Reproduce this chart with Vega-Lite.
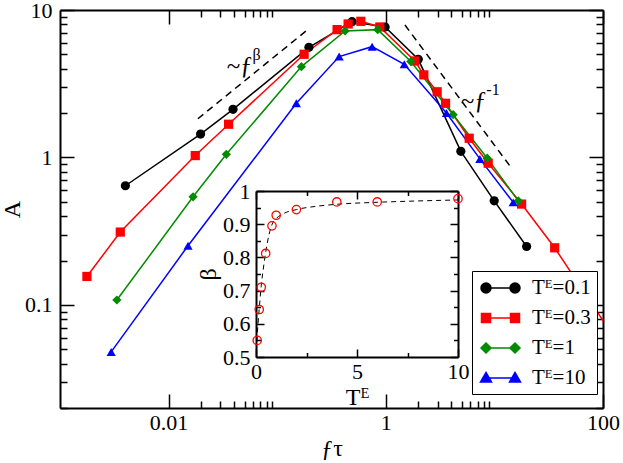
{
  "$schema": "https://vega.github.io/schema/vega-lite/v6.json",
  "width": 543,
  "height": 398,
  "autosize": {"type": "none"},
  "padding": {"left": 60, "top": 10, "right": 20, "bottom": 55},
  "config": {
    "view": {"stroke": null},
    "axis": {
      "grid": false,
      "domainColor": "black",
      "domainWidth": 2,
      "tickColor": "black",
      "tickWidth": 1.5,
      "labelFont": "Liberation Serif",
      "labelFontSize": 22,
      "labelColor": "black",
      "labelFlush": false,
      "labelOverlap": false,
      "titleFont": "Liberation Serif",
      "titleFontSize": 24,
      "titleFontWeight": "normal",
      "titleColor": "black"
    },
    "text": {"font": "Liberation Serif", "color": "black"}
  },
  "datasets": {
    "main": [
      {"series": "Tᴱ=0.1", "f": 0.004, "A": 0.643},
      {"series": "Tᴱ=0.1", "f": 0.0197, "A": 1.44},
      {"series": "Tᴱ=0.1", "f": 0.0392, "A": 2.12},
      {"series": "Tᴱ=0.1", "f": 0.196, "A": 5.58},
      {"series": "Tᴱ=0.1", "f": 0.489, "A": 8.33},
      {"series": "Tᴱ=0.1", "f": 0.985, "A": 7.67},
      {"series": "Tᴱ=0.1", "f": 1.99, "A": 4.63},
      {"series": "Tᴱ=0.1", "f": 4.91, "A": 1.1},
      {"series": "Tᴱ=0.1", "f": 9.96, "A": 0.508},
      {"series": "Tᴱ=0.1", "f": 19.8, "A": 0.249},
      {"series": "Tᴱ=0.3", "f": 0.00177, "A": 0.156},
      {"series": "Tᴱ=0.3", "f": 0.00359, "A": 0.312},
      {"series": "Tᴱ=0.3", "f": 0.0176, "A": 1.03},
      {"series": "Tᴱ=0.3", "f": 0.0357, "A": 1.68},
      {"series": "Tᴱ=0.3", "f": 0.177, "A": 5.01},
      {"series": "Tᴱ=0.3", "f": 0.356, "A": 7.36},
      {"series": "Tᴱ=0.3", "f": 0.45, "A": 8.04},
      {"series": "Tᴱ=0.3", "f": 0.589, "A": 8.38},
      {"series": "Tᴱ=0.3", "f": 0.881, "A": 7.67},
      {"series": "Tᴱ=0.3", "f": 1.85, "A": 4.51},
      {"series": "Tᴱ=0.3", "f": 2.24, "A": 3.63},
      {"series": "Tᴱ=0.3", "f": 2.97, "A": 2.79},
      {"series": "Tᴱ=0.3", "f": 3.55, "A": 2.33},
      {"series": "Tᴱ=0.3", "f": 5.86, "A": 1.35},
      {"series": "Tᴱ=0.3", "f": 8.77, "A": 0.914},
      {"series": "Tᴱ=0.3", "f": 17.8, "A": 0.483},
      {"series": "Tᴱ=0.3", "f": 35.9, "A": 0.244},
      {"series": "Tᴱ=0.3", "f": 150, "A": 0.05},
      {"series": "Tᴱ=1", "f": 0.00334, "A": 0.108},
      {"series": "Tᴱ=1", "f": 0.0168, "A": 0.541},
      {"series": "Tᴱ=1", "f": 0.034, "A": 1.05},
      {"series": "Tᴱ=1", "f": 0.167, "A": 4.13},
      {"series": "Tᴱ=1", "f": 0.422, "A": 7.21},
      {"series": "Tᴱ=1", "f": 0.843, "A": 7.36},
      {"series": "Tᴱ=1", "f": 1.7, "A": 4.47},
      {"series": "Tᴱ=1", "f": 4.17, "A": 1.95},
      {"series": "Tᴱ=1", "f": 8.59, "A": 0.989},
      {"series": "Tᴱ=1", "f": 16.6, "A": 0.508},
      {"series": "Tᴱ=10", "f": 0.00296, "A": 0.048},
      {"series": "Tᴱ=10", "f": 0.0151, "A": 0.252},
      {"series": "Tᴱ=10", "f": 0.15, "A": 2.33},
      {"series": "Tᴱ=10", "f": 0.372, "A": 4.83},
      {"series": "Tᴱ=10", "f": 0.748, "A": 5.64},
      {"series": "Tᴱ=10", "f": 1.48, "A": 4.28},
      {"series": "Tᴱ=10", "f": 3.62, "A": 2.0},
      {"series": "Tᴱ=10", "f": 7.35, "A": 0.978},
      {"series": "Tᴱ=10", "f": 14.9, "A": 0.496}
    ],
    "guides": [
      {"seg": "beta", "f": 0.0186, "A": 1.83},
      {"seg": "beta", "f": 0.186, "A": 7.24},
      {"seg": "inv", "f": 1.5, "A": 7.91},
      {"seg": "inv", "f": 14.4, "A": 0.846}
    ],
    "notes": [
      {"f": 0.0451, "A": 4.17, "txt": "~ƒ"},
      {"f": 6.45, "A": 2.42, "txt": "~ƒ"}
    ],
    "sups": [
      {"f": 0.0647, "A": 4.95, "txt": "β"},
      {"f": 9.7, "A": 2.87, "txt": "-1"}
    ],
    "beta": [
      {"T": 0.06, "beta": 0.55},
      {"T": 0.16, "beta": 0.643},
      {"T": 0.26, "beta": 0.71},
      {"T": 0.48, "beta": 0.812},
      {"T": 0.79, "beta": 0.895},
      {"T": 1, "beta": 0.927},
      {"T": 2, "beta": 0.944},
      {"T": 4, "beta": 0.967},
      {"T": 6, "beta": 0.967},
      {"T": 10, "beta": 0.977}
    ],
    "fit": [
      {"T": 0.02, "beta": 0.52},
      {"T": 0.06, "beta": 0.565},
      {"T": 0.1, "beta": 0.6},
      {"T": 0.16, "beta": 0.645},
      {"T": 0.26, "beta": 0.715},
      {"T": 0.36, "beta": 0.765},
      {"T": 0.48, "beta": 0.815},
      {"T": 0.65, "beta": 0.87},
      {"T": 0.8, "beta": 0.9},
      {"T": 1, "beta": 0.917},
      {"T": 1.3, "beta": 0.93},
      {"T": 2, "beta": 0.944},
      {"T": 3, "beta": 0.954},
      {"T": 4, "beta": 0.96},
      {"T": 6, "beta": 0.966},
      {"T": 8, "beta": 0.97},
      {"T": 10, "beta": 0.973}
    ]
  },
  "layer": [
    {
      "layer": [
        {
          "data": {"name": "main"},
          "mark": {"type": "line", "clip": true, "strokeWidth": 1.5},
          "encoding": {
            "x": {
              "field": "f", "type": "quantitative",
              "scale": {"type": "log", "domain": [0.001, 100], "nice": false},
              "axis": {
                "orient": "bottom",
                "title": "ƒτ",
                "titlePadding": -4,
                "values": [0.01, 0.02, 0.03, 0.04, 0.05, 0.06, 0.07, 0.08, 0.09, 1, 2, 3, 4, 5, 6, 7, 8, 9, 100],
                "format": "~g",
                "labelExpr": "indexof([0.01, 1, 100], datum.value) >= 0 ? datum.label : ''",
                "tickSize": {"condition": {"test": "indexof([0.01, 1, 100], datum.value) >= 0", "value": -14}, "value": -7},
                "labelPadding": 18
              }
            },
            "y": {
              "field": "A", "type": "quantitative",
              "scale": {"type": "log", "domain": [0.02, 10], "nice": false},
              "axis": {
                "orient": "left",
                "title": "A",
                "titlePadding": 0,
                "values": [0.02, 0.03, 0.04, 0.05, 0.06, 0.07, 0.08, 0.09, 0.1, 0.2, 0.3, 0.4, 0.5, 0.6, 0.7, 0.8, 0.9, 1, 2, 3, 4, 5, 6, 7, 8, 9, 10],
                "format": "~g",
                "labelExpr": "indexof([0.1, 1, 10], datum.value) >= 0 ? datum.label : ''",
                "tickSize": {"condition": {"test": "indexof([0.1, 1, 10], datum.value) >= 0", "value": -14}, "value": -7},
                "labelPadding": 22
              }
            },
            "color": {
              "field": "series", "type": "nominal",
              "scale": {"domain": ["Tᴱ=0.1", "Tᴱ=0.3", "Tᴱ=1", "Tᴱ=10"], "range": ["#000000", "#ff0000", "#008b00", "#0000ff"]},
              "legend": null
            }
          }
        },
        {
          "data": {"name": "main"},
          "mark": {"type": "point", "clip": true, "filled": true, "opacity": 1, "size": 85},
          "encoding": {
            "x": {
              "field": "f", "type": "quantitative",
              "scale": {"type": "log", "domain": [0.001, 100], "nice": false},
              "axis": {
                "orient": "top",
                "title": null,
                "labels": false,
                "values": [0.01, 0.02, 0.03, 0.04, 0.05, 0.06, 0.07, 0.08, 0.09, 1, 2, 3, 4, 5, 6, 7, 8, 9, 100],
                "tickSize": {"condition": {"test": "indexof([0.01, 1, 100], datum.value) >= 0", "value": -14}, "value": -7}
              }
            },
            "y": {
              "field": "A", "type": "quantitative",
              "scale": {"type": "log", "domain": [0.02, 10], "nice": false},
              "axis": {
                "orient": "right",
                "title": null,
                "labels": false,
                "values": [0.02, 0.03, 0.04, 0.05, 0.06, 0.07, 0.08, 0.09, 0.1, 0.2, 0.3, 0.4, 0.5, 0.6, 0.7, 0.8, 0.9, 1, 2, 3, 4, 5, 6, 7, 8, 9, 10],
                "tickSize": {"condition": {"test": "indexof([0.1, 1, 10], datum.value) >= 0", "value": -14}, "value": -7}
              }
            },
            "color": {
              "field": "series", "type": "nominal",
              "scale": {"domain": ["Tᴱ=0.1", "Tᴱ=0.3", "Tᴱ=1", "Tᴱ=10"], "range": ["#000000", "#ff0000", "#008b00", "#0000ff"]},
              "legend": null
            },
            "shape": {
              "field": "series", "type": "nominal",
              "scale": {"domain": ["Tᴱ=0.1", "Tᴱ=0.3", "Tᴱ=1", "Tᴱ=10"], "range": ["circle", "square", "diamond", "triangle-up"]},
              "legend": null
            }
          }
        },
        {
          "data": {"name": "guides"},
          "mark": {"type": "line", "color": "black", "strokeWidth": 1.5, "strokeDash": [7, 5]},
          "encoding": {
            "x": {"field": "f", "type": "quantitative", "scale": {"type": "log", "domain": [0.001, 100], "nice": false}, "axis": null},
            "y": {"field": "A", "type": "quantitative", "scale": {"type": "log", "domain": [0.02, 10], "nice": false}, "axis": null},
            "detail": {"field": "seg", "type": "nominal"}
          }
        },
        {
          "data": {"name": "notes"},
          "mark": {"type": "text", "fontSize": 25, "align": "center", "baseline": "middle"},
          "encoding": {
            "x": {"field": "f", "type": "quantitative", "scale": {"type": "log", "domain": [0.001, 100], "nice": false}, "axis": null},
            "y": {"field": "A", "type": "quantitative", "scale": {"type": "log", "domain": [0.02, 10], "nice": false}, "axis": null},
            "text": {"field": "txt"}
          }
        },
        {
          "data": {"name": "sups"},
          "mark": {"type": "text", "fontSize": 16, "align": "center", "baseline": "middle"},
          "encoding": {
            "x": {"field": "f", "type": "quantitative", "scale": {"type": "log", "domain": [0.001, 100], "nice": false}, "axis": null},
            "y": {"field": "A", "type": "quantitative", "scale": {"type": "log", "domain": [0.02, 10], "nice": false}, "axis": null},
            "text": {"field": "txt"}
          }
        },
        {
          "data": {"name": "main"},
          "mark": {"type": "point", "filled": true, "opacity": 0},
          "encoding": {
            "x": {"field": "f", "type": "quantitative", "scale": {"type": "log", "domain": [0.001, 100], "nice": false}, "axis": null},
            "y": {"field": "A", "type": "quantitative", "scale": {"type": "log", "domain": [0.02, 10], "nice": false}, "axis": null},
            "fill": {
              "field": "series", "type": "nominal",
              "scale": {"domain": ["Tᴱ=0.1", "Tᴱ=0.3", "Tᴱ=1", "Tᴱ=10"], "range": ["#000000", "#ff0000", "#008b00", "#0000ff"]},
              "legend": {"title": null, "orient": "none", "legendX": 412, "legendY": 261, "direction": "vertical", "fillColor": "white", "strokeColor": "black", "padding": 6, "symbolSize": 400, "symbolStrokeWidth": 1.5, "symbolOpacity": 1, "labelFont": "Liberation Serif", "labelFontSize": 21, "labelColor": "black", "labelOffset": 32, "rowPadding": 9, "labelLimit": 0}
            },
            "stroke": {
              "field": "series", "type": "nominal",
              "scale": {"domain": ["Tᴱ=0.1", "Tᴱ=0.3", "Tᴱ=1", "Tᴱ=10"], "range": ["#000000", "#ff0000", "#008b00", "#0000ff"]},
              "legend": {"title": null, "orient": "none", "legendX": 412, "legendY": 261, "direction": "vertical", "fillColor": "white", "strokeColor": "black", "padding": 6, "symbolSize": 400, "symbolStrokeWidth": 1.5, "symbolOpacity": 1, "labelFont": "Liberation Serif", "labelFontSize": 21, "labelColor": "black", "labelOffset": 32, "rowPadding": 9, "labelLimit": 0}
            },
            "shape": {
              "field": "series", "type": "nominal",
              "scale": {
                "domain": ["Tᴱ=0.1", "Tᴱ=0.3", "Tᴱ=1", "Tᴱ=10"],
                "range": [
                  "M-0.3,0L2.6,0M0.2,0A0.5,0.5 0 1,1 -0.8,0A0.5,0.5 0 1,1 0.2,0ZM3.1,0A0.5,0.5 0 1,1 2.1,0A0.5,0.5 0 1,1 3.1,0Z",
                  "M-0.3,0L2.6,0M-0.75,-0.45H0.15V0.45H-0.75ZM2.15,-0.45H3.05V0.45H2.15Z",
                  "M-0.3,0L2.6,0M-0.3,-0.5L0.2,0L-0.3,0.5L-0.8,0ZM2.6,-0.5L3.1,0L2.6,0.5L2.1,0Z",
                  "M-0.3,0L2.6,0M-0.3,-0.55L0.25,0.4L-0.85,0.4ZM2.6,-0.55L3.15,0.4L2.05,0.4Z"
                ]
              },
              "legend": {"title": null, "orient": "none", "legendX": 412, "legendY": 261, "direction": "vertical", "fillColor": "white", "strokeColor": "black", "padding": 6, "symbolSize": 400, "symbolStrokeWidth": 1.5, "symbolOpacity": 1, "labelFont": "Liberation Serif", "labelFontSize": 21, "labelColor": "black", "labelOffset": 32, "rowPadding": 9, "labelLimit": 0}
            }
          }
        }
      ],
      "resolve": {"scale": {"color": "independent", "shape": "independent", "fill": "independent", "stroke": "independent"}}
    },
    {
      "layer": [
        {
          "data": {"name": "fit"},
          "mark": {"type": "line", "color": "black", "strokeWidth": 1, "strokeDash": [5, 4], "interpolate": "monotone"},
          "encoding": {
            "x": {
              "field": "T", "type": "quantitative",
              "scale": {"domain": [0, 10], "range": [196, 398], "nice": false, "zero": false},
              "axis": {
                "orient": "bottom",
                "offset": -51,
                "title": "Tᴱ",
                "titlePadding": 0,
                "values": [0, 2.5, 5, 7.5, 10],
                "labelExpr": "datum.value % 5 == 0 ? format(datum.value, 'd') : ''",
                "tickSize": {"condition": {"test": "datum.value % 5 == 0", "value": -8}, "value": -4.5},
                "labelPadding": 12
              }
            },
            "y": {
              "field": "beta", "type": "quantitative",
              "scale": {"domain": [0.5, 1], "range": [347, 181], "nice": false, "zero": false},
              "axis": {
                "orient": "left",
                "offset": -196,
                "title": "β",
                "titlePadding": 2,
                "values": [0.5, 0.55, 0.6, 0.65, 0.7, 0.75, 0.8, 0.85, 0.9, 0.95, 1],
                "format": "~g",
                "labelExpr": "abs(datum.value * 10 - round(datum.value * 10)) < 0.000001 ? datum.label : ''",
                "tickSize": {"condition": {"test": "abs(datum.value * 10 - round(datum.value * 10)) < 0.000001", "value": -8}, "value": -4.5},
                "labelPadding": 14
              }
            }
          }
        },
        {
          "data": {"name": "beta"},
          "mark": {"type": "point", "color": "#ff0000", "filled": false, "strokeWidth": 1.3, "size": 70, "opacity": 1},
          "encoding": {
            "x": {
              "field": "T", "type": "quantitative",
              "scale": {"domain": [0, 10], "range": [196, 398], "nice": false, "zero": false},
              "axis": {
                "orient": "top",
                "offset": -181,
                "title": null,
                "labels": false,
                "values": [0, 2.5, 5, 7.5, 10],
                "tickSize": {"condition": {"test": "datum.value % 5 == 0", "value": -8}, "value": -4.5}
              }
            },
            "y": {
              "field": "beta", "type": "quantitative",
              "scale": {"domain": [0.5, 1], "range": [347, 181], "nice": false, "zero": false},
              "axis": {
                "orient": "right",
                "offset": -145,
                "title": null,
                "labels": false,
                "values": [0.5, 0.55, 0.6, 0.65, 0.7, 0.75, 0.8, 0.85, 0.9, 0.95, 1],
                "tickSize": {"condition": {"test": "abs(datum.value * 10 - round(datum.value * 10)) < 0.000001", "value": -8}, "value": -4.5}
              }
            }
          }
        }
      ]
    }
  ],
  "resolve": {"scale": {"x": "independent", "y": "independent"}}
}
